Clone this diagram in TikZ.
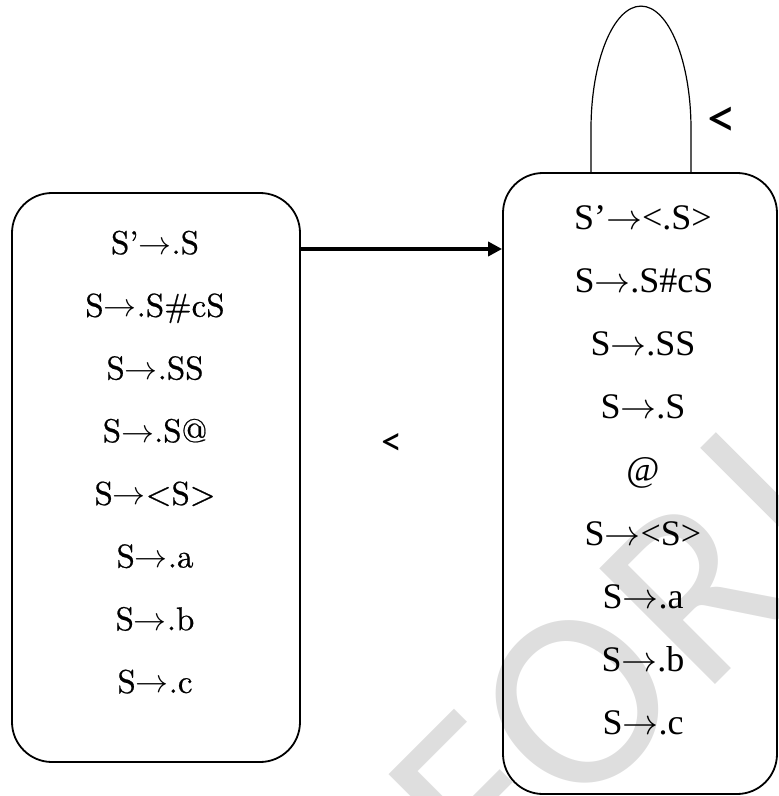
\documentclass[tikz,border=0pt]{standalone}
\usepackage{graphicx}
\usepackage{fontspec}
\usetikzlibrary{arrows.meta}
\newfontfamily\lmten{lmroman10-regular.otf}[FakeBold=0.6]
\newfontfamily\timesfont{Liberation Serif}
\newfontfamily\calfont{Carlito}
\definecolor{wm}{HTML}{DEDEDE}
\newcommand\la{\scalebox{1.33}{$\rightarrow$}}
\newcommand\ra{\scalebox{1.45}{$\rightarrow$}}
\begin{document}
\begin{tikzpicture}[x=1bp,y=-1bp,
  box/.style={draw, line width=1.8bp, rounded corners=40bp, inner sep=0pt},
  ltxt/.style={anchor=base, inner sep=0pt, font=\lmten\fontsize{33bp}{38bp}\selectfont},
  rtxt/.style={anchor=base, inner sep=0pt, font=\timesfont\fontsize{36bp}{41bp}\selectfont},
  lbl/.style={inner sep=0pt},
  wmark/.style={rotate=45, inner sep=0pt, text=wm, font=\calfont\fontsize{255bp}{255bp}\selectfont}]
\useasboundingbox (0,0) rectangle (779,796);
% watermark
\node[wmark] (wF) at (476,803) {F};
\node[wmark] (wO) at (577,702) {O};
\node[wmark] (wR) at (694,591) {R};
\draw[wm, line width=22bp] (708,440) -- (840,572);
% boxes
\node[box, minimum width=288bp, minimum height=569bp] (lb) at (156,477.5) {};
\node[box, minimum width=274bp, minimum height=621bp] (rb) at (640,483.5) {};
% left texts
\node[ltxt] (l1) at (155,254) {S’\la.S};
\node[ltxt] (l2) at (155,316.7) {S\la.S\#cS};
\node[ltxt] (l3) at (155,379.4) {S\la.SS};
\node[ltxt] (l4) at (155,442.1) {S\la.S@};
\node[ltxt] (l5) at (155,504.8) {S\la<S>};
\node[ltxt] (l6) at (155,567.5) {S\la.a};
\node[ltxt] (l7) at (155,630.2) {S\la.b};
\node[ltxt] (l8) at (155,692.9) {S\la.c};
% right texts
\node[rtxt] (r1) at (643,229.5) {S’\ra<.S>};
\node[rtxt] (r2) at (644,292.6) {S\ra.S\#cS};
\node[rtxt] (r3) at (643,355.7) {S\ra.SS};
\node[rtxt] (r4) at (643,418.8) {S\ra.S};
\node[rtxt] (r5) at (643,481.9) {@};
\node[rtxt] (r6) at (643,545.0) {S\ra<S>};
\node[rtxt] (r7) at (643,608.1) {S\ra.a};
\node[rtxt] (r8) at (643,671.2) {S\ra.b};
\node[rtxt] (r9) at (643,734.3) {S\ra.c};
% arrow between boxes
\coordinate (ay) at (0,249);
\draw[line width=4.5bp, -{Triangle[length=14bp,width=14bp]}] (lb.east |- ay) -- (rb.west |- ay);
% self loop
\draw[line width=1.2bp] ([xshift=-49bp]rb.north) -- ++(0,-43) arc[start angle=180, end angle=360, x radius=50, y radius=123] -- ([xshift=51bp]rb.north);
% labels
\node[lbl, font=\calfont\fontsize{58bp}{64bp}\selectfont] (lt) at (722,122) {<};
\node[lbl, font=\calfont\fontsize{42bp}{48bp}\selectfont] (lm) at (392,444) {<};
\end{tikzpicture}
\end{document}
